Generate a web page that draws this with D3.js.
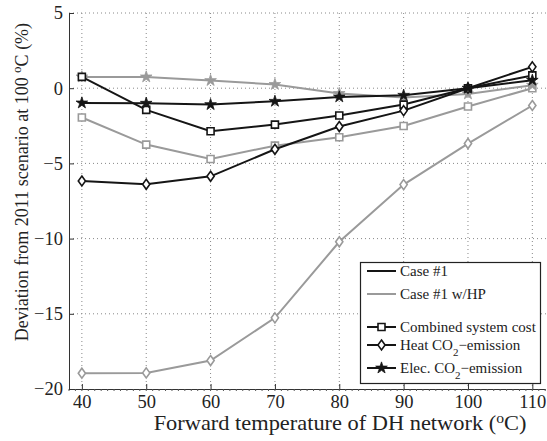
<!DOCTYPE html>
<html>
<head>
<meta charset="utf-8">
<script src="https://cdn.jsdelivr.net/npm/d3@7"></script>
<style>
  body { margin: 0; background: #fff; }
  text { font-family: "Liberation Serif", "Times New Roman", serif; fill: #222; }
</style>
</head>
<body>
<script>
// forward temperature (°C)
const temps = [40, 50, 60, 70, 80, 90, 100, 110];
const xTicks = [40, 50, 60, 70, 80, 90, 100, 110];
const yTicks = [5, 0, -5, -10, -15, -20];

// Case #1
const case1Cost = [0.75, -1.44, -2.86, -2.42, -1.82, -1.09, 0, 0.85];
const case1Heat = [-6.17, -6.39, -5.86, -4.06, -2.55, -1.49, 0, 1.42];
const case1Elec = [-0.98, -1.0, -1.09, -0.87, -0.58, -0.47, 0, 0.53];

// Case #1 w/HP
const hpCost = [-1.95, -3.75, -4.71, -3.82, -3.26, -2.51, -1.22, 0.0];
const hpHeat = [-18.95, -18.93, -18.11, -15.27, -10.21, -6.41, -3.68, -1.15];
const hpElec = [0.75, 0.75, 0.51, 0.25, -0.35, -0.62, -0.38, 0.2];

const width = 547, height = 441;
const margin = { top: 13, right: 2, bottom: 52, left: 69 };

const svg = d3.select("body").append("svg")
  .attr("width", width)
  .attr("height", height);

const x = d3.scaleLinear()
  .domain([38, 112])
  .range([margin.left, 545.2]);

const y = d3.scaleLinear()
  .domain([-20, 5])
  .range([height - margin.bottom, margin.top]);

// grid
const grid = svg.append("g")
  .attr("stroke", "#888")
  .attr("stroke-width", 1)
  .attr("stroke-dasharray", "1,3");

grid.selectAll(".gx")
  .data(xTicks)
  .join("line")
  .attr("x1", d => x(d)).attr("x2", d => x(d))
  .attr("y1", y(5)).attr("y2", y(-20));

grid.selectAll(".gy")
  .data(yTicks.filter(d => d > -20))
  .join("line")
  .attr("x1", x(38)).attr("x2", width)
  .attr("y1", d => y(d)).attr("y2", d => y(d));

// axes
svg.append("g")
  .attr("transform", `translate(0,${y(-20)})`)
  .call(d3.axisBottom(x).tickValues(xTicks).tickSizeInner(-5).tickSizeOuter(0).tickPadding(6))
  .call(g => g.select(".domain").attr("stroke", "#333"))
  .call(g => g.selectAll(".tick line").attr("stroke", "#333"))
  .call(g => g.selectAll("text").attr("font-size", 18.5).attr("fill", "#222"));

// minor ticks on the bottom axis
svg.append("g")
  .attr("stroke", "#555")
  .selectAll("line")
  .data(d3.range(38, 113))
  .join("line")
  .attr("x1", d => x(d)).attr("x2", d => x(d))
  .attr("y1", y(-20)).attr("y2", y(-20) + 2);

svg.append("g")
  .attr("transform", `translate(${margin.left},0)`)
  .call(d3.axisLeft(y).tickValues(yTicks).tickFormat(d => d < 0 ? "\u2212" + Math.abs(d) : d)
    .tickSizeInner(-5).tickSizeOuter(0).tickPadding(6))
  .call(g => g.select(".domain").attr("stroke", "#333"))
  .call(g => g.selectAll(".tick line").attr("stroke", "#333"))
  .call(g => g.selectAll("text").attr("font-size", 18.5).attr("fill", "#222"));

// series
const grey = "#9a9a9a", black = "#151515";
const series = [
  { values: hpCost, color: grey, marker: "square" },
  { values: hpHeat, color: grey, marker: "diamond" },
  { values: hpElec, color: grey, marker: "star" },
  { values: case1Cost, color: black, marker: "square" },
  { values: case1Heat, color: black, marker: "diamond" },
  { values: case1Elec, color: black, marker: "star" }
];

const line = d3.line()
  .x((d, i) => x(temps[i]))
  .y(d => y(d));

const starPath = d3.symbol(d3.symbolStar, 42)();
const squarePath = "M-3.5,-3.5H3.5V3.5H-3.5Z";
const diamondPath = "M0,-5L3.6,0L0,5L-3.6,0Z";

function drawMarker(g, type, color) {
  if (type === "square") {
    g.append("path").attr("d", squarePath).attr("fill", "#fff")
      .attr("stroke", color).attr("stroke-width", 1.6);
  } else if (type === "diamond") {
    g.append("path").attr("d", diamondPath).attr("fill", "#fff")
      .attr("stroke", color).attr("stroke-width", 1.6);
  } else {
    g.append("path").attr("d", starPath).attr("fill", color)
      .attr("stroke", color).attr("stroke-width", 0.8);
  }
}

series.forEach(s => {
  svg.append("path")
    .datum(s.values)
    .attr("fill", "none")
    .attr("stroke", s.color)
    .attr("stroke-width", 2)
    .attr("d", line);
  s.values.forEach((v, i) => {
    const g = svg.append("g").attr("transform", `translate(${x(temps[i])},${y(v)})`);
    drawMarker(g, s.marker, s.color);
  });
});

// legend
const lg = svg.append("g");
lg.append("rect")
  .attr("x", 360.5).attr("y", 262.5)
  .attr("width", 180).attr("height", 121)
  .attr("fill", "#fff").attr("stroke", "#222").attr("stroke-width", 1.2);

const legendRows = [
  { label: ["Case #1"], color: black, marker: null, y: 271 },
  { label: ["Case #1 w/HP"], color: grey, marker: null, y: 294 },
  { label: ["Combined system cost"], color: black, marker: "square", y: 327 },
  { label: ["Heat CO", "2", "\u2212emission"], color: black, marker: "diamond", y: 345 },
  { label: ["Elec. CO", "2", "\u2212emission"], color: black, marker: "star", y: 368 }
];

legendRows.forEach(r => {
  lg.append("line")
    .attr("x1", 367).attr("x2", 396)
    .attr("y1", r.y).attr("y2", r.y)
    .attr("stroke", r.color).attr("stroke-width", 2);
  if (r.marker) {
    const g = lg.append("g").attr("transform", `translate(381.5,${r.y})`);
    drawMarker(g, r.marker, r.color);
  }
  const t = lg.append("text")
    .attr("x", 400).attr("y", r.y + 5)
    .attr("font-size", 15);
  t.append("tspan").text(r.label[0]);
  if (r.label.length > 1) {
    t.append("tspan").attr("dy", 6).attr("font-size", 11).text(r.label[1]);
    t.append("tspan").attr("dy", -6).text(r.label[2]);
  }
});

// axis titles
const xl = svg.append("text")
  .attr("transform", "translate(340,430) scale(1.12,1)")
  .attr("text-anchor", "middle")
  .attr("font-size", 20);
xl.append("tspan").text("Forward temperature of DH network (");
xl.append("tspan").attr("dy", -7).attr("font-size", 14).text("o");
xl.append("tspan").attr("dy", 7).text("C)");

const yl = svg.append("text")
  .attr("transform", `translate(28,182) rotate(-90)`)
  .attr("text-anchor", "middle")
  .attr("font-size", 18);
yl.append("tspan").text("Deviation from 2011 scenario at 100 ");
yl.append("tspan").attr("dy", -7).attr("font-size", 13).text("o");
yl.append("tspan").attr("dy", 7).text("C (%)");
</script>
</body>
</html>
